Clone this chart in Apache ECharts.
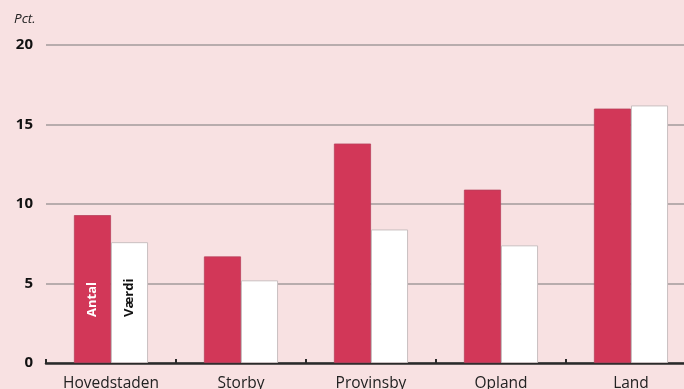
<!DOCTYPE html>
<html>
<head>
<meta charset="utf-8">
<script src="https://cdn.jsdelivr.net/npm/echarts@6/dist/echarts.min.js"></script>
<style>
  html, body { margin: 0; padding: 0; background: #f8e1e2; }
  #chart { width: 684px; height: 389px; }
</style>
</head>
<body>
<div id="chart"></div>
<script>
// Regions along the x axis
const categories = ['Hovedstaden', 'Storby', 'Provinsby', 'Opland', 'Land'];
// Share by number of properties (Antal), per cent
const antal = [9.3, 6.7, 13.8, 10.9, 16.0];
// Share by value (Værdi), per cent
const vaerdi = [7.6, 5.2, 8.4, 7.4, 16.2];
// Y axis range and step
const yMin = 0, yMax = 20, yStep = 5;

const font = 'Open Sans';
const chart = echarts.init(document.getElementById('chart'), null, { renderer: 'canvas' });

// Inline series labels shown only on the first group of bars
function withLabel(values, text, color) {
  return values.map((v, i) => i === 0 ? {
    value: v,
    label: {
      show: true, formatter: text, position: 'insideBottom', distance: 46,
      rotate: 90, align: 'left', verticalAlign: 'middle',
      color: color, fontFamily: font, fontWeight: 'bold', fontSize: 13
    }
  } : v);
}

chart.setOption({
  backgroundColor: '#f8e1e2',
  animation: false,
  // plot area runs past the right edge; labels may be clipped by the canvas
  grid: { left: 46, width: 650, top: 45, bottom: 26, outerBoundsMode: 'none', containLabel: false },
  title: {
    text: 'Pct.', left: 9, top: 7,
    textStyle: { fontFamily: font, fontStyle: 'italic', fontWeight: 'normal', fontSize: 13.5, color: '#222' }
  },
  xAxis: {
    type: 'category',
    data: categories,
    axisLine: { lineStyle: { color: '#2a2a2a', width: 2.5 } },
    axisTick: { show: true, inside: true, length: 4, lineStyle: { color: '#2a2a2a', width: 2 } },
    axisLabel: { margin: 13, fontFamily: font, fontSize: 15.5, color: '#222' }
  },
  yAxis: {
    type: 'value', min: yMin, max: yMax, interval: yStep,
    axisLine: { show: false }, axisTick: { show: false },
    axisLabel: { margin: 13, fontFamily: font, fontWeight: 'bold', fontSize: 15, color: '#111' },
    splitLine: { lineStyle: { color: '#a39a9b', width: 1.5 } }
  },
  series: [
    {
      name: 'Antal', type: 'bar', barGap: '0%', barCategoryGap: '43%',
      data: withLabel(antal, 'Antal', '#ffffff'),
      itemStyle: { color: '#d23758', borderColor: '#b8405c', borderWidth: 0.8 }
    },
    {
      name: 'Værdi', type: 'bar',
      data: withLabel(vaerdi, 'Værdi', '#111111'),
      itemStyle: { color: '#ffffff', borderColor: '#c9bfc0', borderWidth: 1 }
    }
  ]
});
</script>
</body>
</html>
